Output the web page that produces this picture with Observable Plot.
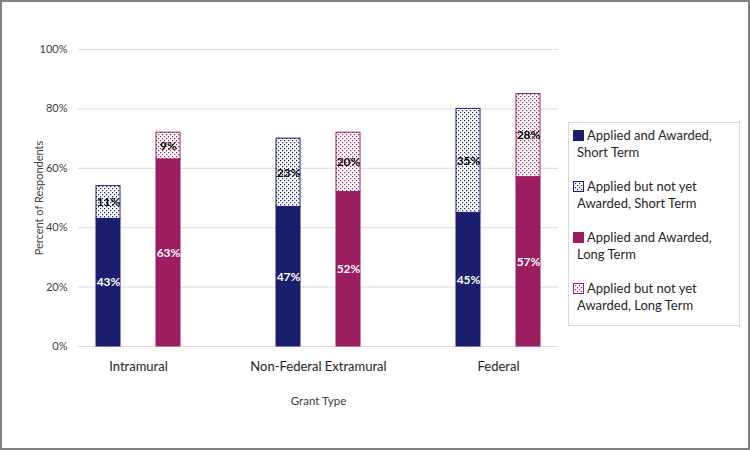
<!DOCTYPE html>
<html><head><meta charset="utf-8">
<script src="https://cdn.jsdelivr.net/npm/d3@7"></script>
<script src="https://cdn.jsdelivr.net/npm/@observablehq/plot@0.6"></script>
<style>
body{margin:0;background:#fff;}
#wrap{position:relative;width:750px;height:450px;font-family:Lato,"Open Sans",sans-serif;background:#fff;overflow:hidden;}
#frame{position:absolute;left:0;top:0;width:750px;height:450px;box-sizing:border-box;border:2px solid #808080;pointer-events:none;}
#chart{position:absolute;left:0;top:0;}
#legend{position:absolute;left:568px;top:122px;width:172px;height:204px;box-sizing:border-box;border:1px solid #d9d9d9;padding:4px 0 0 8px;font-size:13px;line-height:17px;color:#262626;}
.item{margin-bottom:17px;}
.sw{display:inline-block;width:11px;height:11px;box-sizing:border-box;vertical-align:-1px;margin-left:-4px;margin-right:3px;}
</style></head>
<body>
<svg width="0" height="0" style="position:absolute">
  <defs>
    <pattern id="dotNavy" width="4" height="4" patternUnits="userSpaceOnUse">
      <rect width="4" height="4" fill="#ffffff"/>
      <rect x="0" y="0" width="1.2" height="1.2" fill="#1a1e6c"/>
      <rect x="2" y="2" width="1.2" height="1.2" fill="#1a1e6c"/>
    </pattern>
    <pattern id="dotMag" width="4" height="4" patternUnits="userSpaceOnUse">
      <rect width="4" height="4" fill="#ffffff"/>
      <rect x="0" y="0" width="1.2" height="1.2" fill="#9c1d60"/>
      <rect x="2" y="2" width="1.2" height="1.2" fill="#9c1d60"/>
    </pattern>
  </defs>
</svg>
<div id="wrap">
  <div id="chart"></div>
  <div id="legend"></div>
  <div id="frame"></div>
</div>
<script>
const categories = ["Intramural", "Non-Federal Extramural", "Federal"];
const terms = ["Short Term", "Long Term"];
const seriesNames = [
  "Applied and Awarded, Short Term",
  "Applied but not yet Awarded, Short Term",
  "Applied and Awarded, Long Term",
  "Applied but not yet Awarded, Long Term"
];
const awardedShort = [43, 47, 45];
const pendingShort = [11, 23, 35];
const awardedLong = [63, 52, 57];
const pendingLong = [9, 20, 28];
const yTicks = [0, 20, 40, 60, 80, 100];

const navy = "#1a1e6c", magenta = "#9c1d60";
const seriesFill = [navy, "url(#dotNavy)", magenta, "url(#dotMag)"];

const seriesValues = [awardedShort, pendingShort, awardedLong, pendingLong];
const seriesTerm = [terms[0], terms[0], terms[1], terms[1]];
const seriesAwarded = [true, false, true, false];

const rows = [];
categories.forEach((c, i) => {
  seriesNames.forEach((s, j) => {
    rows.push({category: c, term: seriesTerm[j], series: s, awarded: seriesAwarded[j],
               key: c + "|" + seriesTerm[j], value: seriesValues[j][i]});
  });
});

const xDomain = [];
categories.forEach((c, i) => {
  terms.forEach(t => xDomain.push(c + "|" + t));
  if (i < categories.length - 1) xDomain.push("gap" + i);
});

const chart = Plot.plot({
  width: 560, height: 450,
  marginTop: 49, marginBottom: 104, marginLeft: 78, marginRight: 2,
  style: {fontFamily: "Lato, 'Open Sans', sans-serif", fontSize: "11px", color: "#404040", background: "transparent", overflow: "visible"},
  x: {type: "band", domain: xDomain, paddingInner: 0.6, paddingOuter: 0.3, axis: null},
  y: {domain: [0, 100], axis: null},
  color: {type: "ordinal", domain: [...seriesNames, ...terms], range: [...seriesFill, navy, magenta]},
  marks: [
    Plot.ruleY(yTicks, {stroke: "#d9d9d9", strokeWidth: 1}),
    Plot.axisY(yTicks, {tickSize: 0, tickPadding: 11, tickFormat: d => d + "%", fontSize: 11, fill: "#404040",
      label: "Percent of Respondents", labelAnchor: "center", labelOffset: 43, labelArrow: "none"}),
    Plot.barY(rows, Plot.stackY({x: "key", y: "value", z: "series", fill: "series", stroke: d => d.term, strokeWidth: 1})),
    Plot.text(rows, Plot.stackY({x: "key", y: "value", z: "series", text: d => d.awarded ? d.value + "%" : "",
      fill: "white", fontWeight: "bold", fontSize: 12})),
    Plot.text(rows, Plot.stackY({x: "key", y: "value", z: "series", text: d => d.awarded ? "" : d.value + "%",
      fill: "black", fontWeight: "bold", fontSize: 12})),
    Plot.text(categories, {x: c => c + "|" + terms[0], text: d => d, frameAnchor: "bottom", dx: 30, dy: 24,
      fontSize: 13, fill: "#262626"}),
    Plot.text(["Grant Type"], {text: d => d, frameAnchor: "bottom", dy: 58, fontSize: 11.5, fill: "#404040"})
  ]
});
document.getElementById("chart").appendChild(chart);

const legend = document.getElementById("legend");
const legendLines = [
  ["Applied and Awarded,", "Short Term"],
  ["Applied but not yet", "Awarded, Short Term"],
  ["Applied and Awarded,", "Long Term"],
  ["Applied but not yet", "Awarded, Long Term"]
];
seriesNames.forEach((s, j) => {
  const item = document.createElement("div");
  item.className = "item";
  const sw = document.createElementNS("http://www.w3.org/2000/svg", "svg");
  sw.setAttribute("class", "sw");
  sw.setAttribute("width", 11); sw.setAttribute("height", 11);
  const r = document.createElementNS("http://www.w3.org/2000/svg", "rect");
  r.setAttribute("x", 0.5); r.setAttribute("y", 0.5); r.setAttribute("width", 10); r.setAttribute("height", 10);
  r.setAttribute("fill", seriesFill[j]);
  r.setAttribute("stroke", j < 2 ? navy : magenta);
  sw.appendChild(r);
  item.appendChild(sw);
  item.appendChild(document.createTextNode(legendLines[j][0]));
  item.appendChild(document.createElement("br"));
  item.appendChild(document.createTextNode(legendLines[j][1]));
  legend.appendChild(item);
});
</script>
</body></html>
